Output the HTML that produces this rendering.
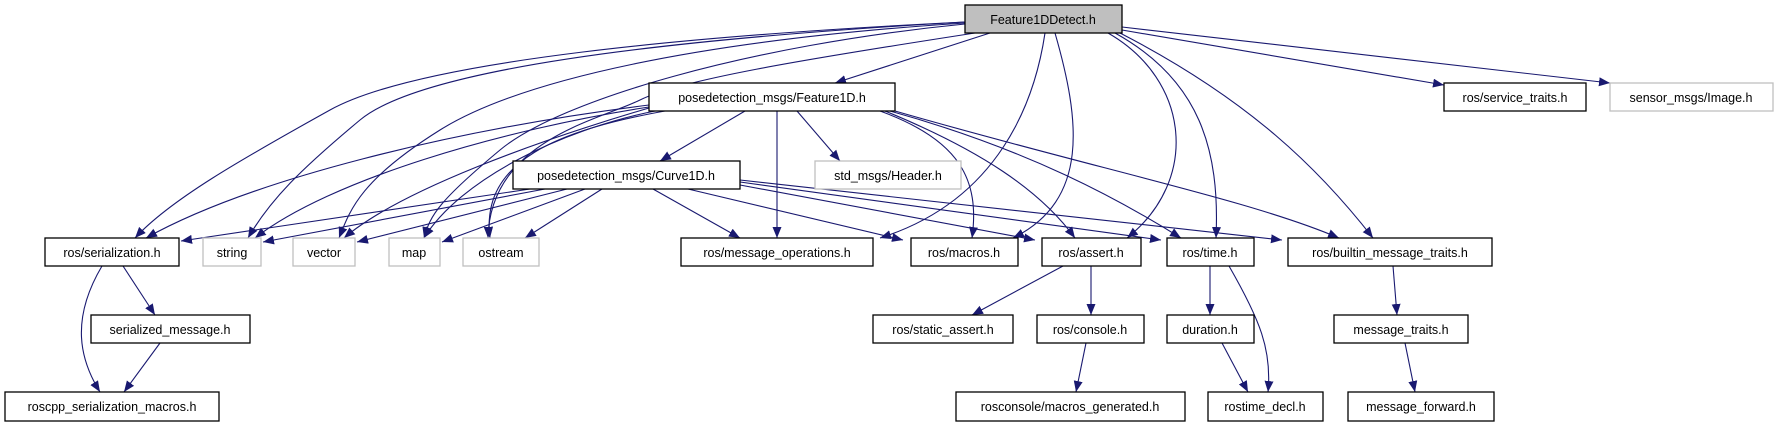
<!DOCTYPE html>
<html><head><meta charset="utf-8"><style>
html,body{margin:0;padding:0;background:#fff;}
svg{display:block}
text{font-family:"Liberation Sans",sans-serif;font-size:12.5px;text-anchor:middle;fill:#000}
.b{fill:#fff;stroke:#000;stroke-width:1.3}
.g{fill:#fff;stroke:#bfbfbf;stroke-width:1.3}
path{fill:none;stroke:#191970;stroke-width:1.1;marker-end:url(#a)}
</style></head><body>
<svg width="1775" height="427" viewBox="0 0 1775 427" xmlns="http://www.w3.org/2000/svg">
<defs><marker id="a" markerUnits="userSpaceOnUse" markerWidth="12" markerHeight="10" refX="11" refY="4.5" orient="auto"><polygon points="0,0 11,4.5 0,9" fill="#191970"/></marker></defs>
<path d="M990,33 L835,83"/>
<path d="M965,22 C700,35 420,60 330,110 S170,200 135,238"/>
<path d="M965,22 C650,40 420,70 360,120 S270,200 248,238"/>
<path d="M965,23 C700,40 520,80 440,130 S350,210 339,238"/>
<path d="M965,24 C750,45 560,100 500,150 S430,215 424,238"/>
<path d="M975,33 C800,60 680,80 640,100 S490,140 488,238"/>
<path d="M1045,33 C1035,100 1000,200 880,238"/>
<path d="M1055,33 C1080,120 1090,200 1013,238"/>
<path d="M1108,33 C1190,80 1200,180 1127,238"/>
<path d="M1115,33 C1200,80 1220,150 1216,238"/>
<path d="M1120,33 C1250,100 1320,170 1373,238"/>
<path d="M1122,30 L1444,85"/>
<path d="M1122,27 L1610,83"/>
<path d="M745,111 L660,161"/>
<path d="M797,111 L840,161"/>
<path d="M777,111 L777,238"/>
<path d="M649,105 C450,130 250,180 146,238"/>
<path d="M649,107 C500,130 330,180 255,238"/>
<path d="M649,108 C540,140 400,190 344,238"/>
<path d="M655,111 C560,130 460,180 424,238"/>
<path d="M665,111 C560,130 480,160 490,238"/>
<path d="M880,111 C960,140 980,180 972,238"/>
<path d="M885,111 C980,150 1040,190 1075,238"/>
<path d="M890,111 C1030,150 1120,200 1181,238"/>
<path d="M895,111 C1100,170 1250,200 1339,238"/>
<path d="M530,189 L181,241"/>
<path d="M545,189 L263,242"/>
<path d="M567,189 L357,242"/>
<path d="M585,189 L442,242"/>
<path d="M602,189 L525,238"/>
<path d="M653,189 L740,238"/>
<path d="M688,189 L903,240"/>
<path d="M740,185 L1035,240"/>
<path d="M740,182 L1161,240"/>
<path d="M740,180 L1282,240"/>
<path d="M123,266 L155,315"/>
<path d="M102,266 C70,320 80,360 100,392"/>
<path d="M160,343 L124,392"/>
<path d="M1063,266 L972,315"/>
<path d="M1091,266 L1091,315"/>
<path d="M1086,343 L1076,392"/>
<path d="M1210,266 L1210,315"/>
<path d="M1229,266 C1260,320 1272,350 1268,392"/>
<path d="M1222,343 L1248,392"/>
<path d="M1393,266 L1397,315"/>
<path d="M1405,343 L1415,392"/>
<rect x="965" y="5" width="157" height="28" fill="#bfbfbf" stroke="#000" stroke-width="1.3"/><text x="1043" y="24">Feature1DDetect.h</text>
<rect class="b" x="649" y="83" width="246" height="28"/><text x="772" y="102">posedetection_msgs/Feature1D.h</text>
<rect class="b" x="1444" y="83" width="142" height="28"/><text x="1515" y="102">ros/service_traits.h</text>
<rect class="g" x="1610" y="83" width="163" height="28"/><text x="1691" y="102">sensor_msgs/Image.h</text>
<rect class="b" x="513" y="161" width="227" height="28"/><text x="626" y="180">posedetection_msgs/Curve1D.h</text>
<rect class="g" x="815" y="161" width="146" height="28"/><text x="888" y="180">std_msgs/Header.h</text>
<rect class="b" x="45" y="238" width="134" height="28"/><text x="112" y="257">ros/serialization.h</text>
<rect class="g" x="203" y="238" width="58" height="28"/><text x="232" y="257">string</text>
<rect class="g" x="293" y="238" width="62" height="28"/><text x="324" y="257">vector</text>
<rect class="g" x="389" y="238" width="51" height="28"/><text x="414" y="257">map</text>
<rect class="g" x="463" y="238" width="76" height="28"/><text x="501" y="257">ostream</text>
<rect class="b" x="681" y="238" width="192" height="28"/><text x="777" y="257">ros/message_operations.h</text>
<rect class="b" x="911" y="238" width="107" height="28"/><text x="964" y="257">ros/macros.h</text>
<rect class="b" x="1042" y="238" width="99" height="28"/><text x="1091" y="257">ros/assert.h</text>
<rect class="b" x="1167" y="238" width="87" height="28"/><text x="1210" y="257">ros/time.h</text>
<rect class="b" x="1288" y="238" width="204" height="28"/><text x="1390" y="257">ros/builtin_message_traits.h</text>
<rect class="b" x="91" y="315" width="159" height="28"/><text x="170" y="334">serialized_message.h</text>
<rect class="b" x="873" y="315" width="140" height="28"/><text x="943" y="334">ros/static_assert.h</text>
<rect class="b" x="1037" y="315" width="107" height="28"/><text x="1090" y="334">ros/console.h</text>
<rect class="b" x="1167" y="315" width="87" height="28"/><text x="1210" y="334">duration.h</text>
<rect class="b" x="1334" y="315" width="134" height="28"/><text x="1401" y="334">message_traits.h</text>
<rect class="b" x="5" y="392" width="214" height="29"/><text x="112" y="411">roscpp_serialization_macros.h</text>
<rect class="b" x="956" y="392" width="229" height="29"/><text x="1070" y="411">rosconsole/macros_generated.h</text>
<rect class="b" x="1208" y="392" width="115" height="29"/><text x="1265" y="411">rostime_decl.h</text>
<rect class="b" x="1348" y="392" width="146" height="29"/><text x="1421" y="411">message_forward.h</text>
</svg>
</body></html>
